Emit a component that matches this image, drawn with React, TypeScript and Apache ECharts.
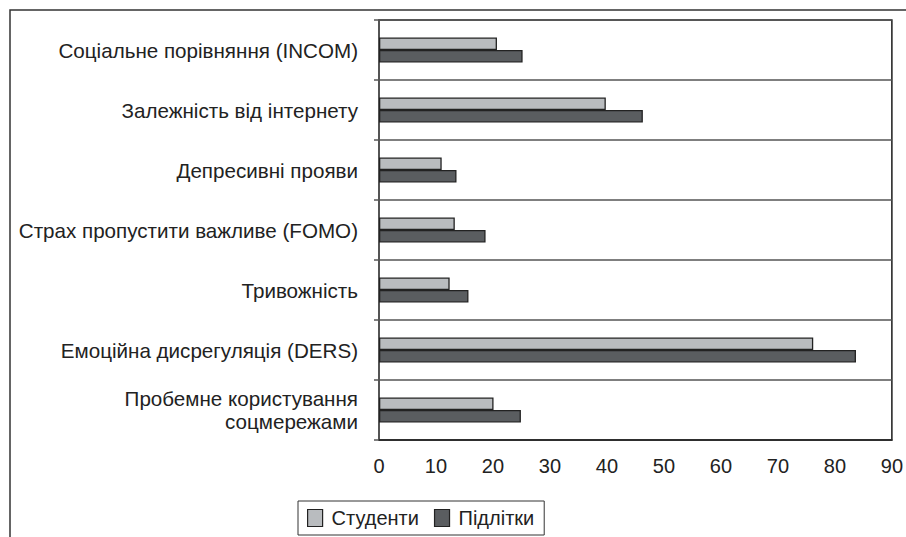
import React, { useEffect, useRef } from "react";
import * as echarts from "echarts";

const categories = [
  "Соціальне порівняння (INCOM)",
  "Залежність від інтернету",
  "Депресивні прояви",
  "Страх пропустити важливе (FOMO)",
  "Тривожність",
  "Емоційна дисрегуляція (DERS)",
  "Пробемне користування\nсоцмережами",
];
const students = [20.7, 39.8, 11.0, 13.3, 12.4, 76.2, 20.1];
const teens = [25.2, 46.3, 13.6, 18.7, 15.7, 83.7, 24.9];
const seriesNames = ["Студенти", "Підлітки"];

const FONT = "'Liberation Sans', Arial, Helvetica, sans-serif";

export default function App() {
  const ref = useRef<HTMLDivElement>(null);
  useEffect(() => {
    if (!ref.current) return;
    const chart = echarts.init(ref.current, null, { renderer: "svg" });
    chart.setOption({
      animation: false,
      backgroundColor: "#ffffff",
      textStyle: { fontFamily: FONT },
      grid: {
        left: 379,
        top: 20,
        right: 13,
        bottom: 97,
        show: true,
        borderColor: "#2a2a2a",
        borderWidth: 1.6,
        containLabel: false,
      },
      legend: {
        data: seriesNames,
        left: 298,
        top: 501,
        orient: "horizontal",
        icon: "rect",
        borderColor: "#333",
        borderWidth: 1,
        padding: [7, 10, 7, 9],
        itemGap: 15,
        itemWidth: 15,
        itemHeight: 17,
        itemStyle: { borderColor: "#222", borderWidth: 1.2 },
        textStyle: { fontSize: 20, color: "#222", fontFamily: FONT, padding: [0, 0, 0, 4] },
      },
      xAxis: {
        type: "value",
        min: 0,
        max: 90,
        interval: 10,
        axisLine: { show: true, lineStyle: { color: "#222", width: 1.5 } },
        axisTick: { show: false },
        splitLine: { show: false },
        axisLabel: { fontSize: 20, color: "#222", margin: 16, fontFamily: FONT },
      },
      yAxis: {
        type: "category",
        data: categories,
        inverse: true,
        axisLine: { show: true, lineStyle: { color: "#555", width: 1.5 } },
        axisTick: { show: true, length: 5, lineStyle: { color: "#555", width: 1.5 } },
        splitLine: { show: true, lineStyle: { color: "#555", width: 1.5 } },
        axisLabel: {
          fontSize: 20.6,
          color: "#222",
          margin: 21,
          lineHeight: 23,
          align: "right",
          fontFamily: FONT,
        },
      },
      series: [
        {
          name: seriesNames[0],
          type: "bar",
          data: students,
          barWidth: 12.5,
          barGap: "0%",
          itemStyle: { color: "#b9bcbf", borderColor: "#222", borderWidth: 1.3 },
        },
        {
          name: seriesNames[1],
          type: "bar",
          data: teens,
          barWidth: 12.5,
          barGap: "0%",
          itemStyle: { color: "#5a5d60", borderColor: "#222", borderWidth: 1.3 },
        },
      ],
      graphic: [
        {
          type: "rect",
          silent: true,
          shape: { x: 10, y: 10, width: 1000, height: 1000 },
          style: { fill: "none", stroke: "#333", lineWidth: 1.5 },
        },
      ],
    });
    return () => chart.dispose();
  }, []);
  return (
    <div
      ref={ref}
      style={{ position: "fixed", left: 0, top: 0, width: 906, height: 537 }}
    />
  );
}
